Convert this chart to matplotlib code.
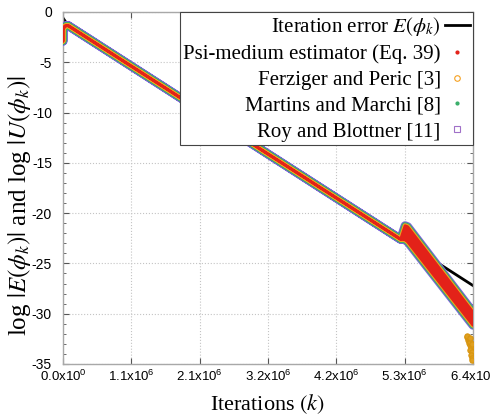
import numpy as np
import matplotlib.pyplot as plt
from matplotlib.lines import Line2D
from matplotlib.ticker import MultipleLocator
from matplotlib.font_manager import FontProperties

plt.rcParams['font.family'] = ['Liberation Serif', 'DejaVu Serif']
# tick label exponents use a sans math font, the labels keep stix
plt.rcParams['mathtext.fontset'] = 'custom'
plt.rcParams['mathtext.rm'] = 'Liberation Sans'
plt.rcParams['mathtext.it'] = 'Liberation Sans:italic'
plt.rcParams['mathtext.bf'] = 'Liberation Sans:bold'

# iteration error E(phi_k), log scale
err_k = [0.0, 0.08e6, 6.4e6]
err_log = [-0.6, -1.35, -27.2]

# envelope of the four error estimators (they sit on top of each other)
est_k = [0.0, 0.0, 0.03e6, 0.08e6, 5.27e6, 5.34e6, 5.38e6, 6.4e6]
est_hi = [-2.9, -1.75, -1.4, -1.35, -22.6, -21.25, -21.35, -29.85]
est_lo = [-2.9, -1.75, -1.4, -1.35, -22.6, -22.65, -22.85, -31.15]

# Ferziger and Peric values scattered near the end of the run
fp_tail_k = [6.30e6, 6.32e6, 6.34e6, 6.33e6, 6.35e6, 6.36e6, 6.37e6, 6.36e6,
             6.38e6, 6.37e6, 6.38e6, 6.39e6, 6.31e6, 6.35e6, 6.38e6]
fp_tail_y = [-32.3, -32.6, -32.5, -32.9, -33.1, -32.8, -33.3, -33.6,
             -33.8, -34.1, -34.4, -34.6, -32.2, -32.4, -33.0]

xticks = np.linspace(0, 6.4e6, 7)
xtick_labels = ['0.0x10$^{0}$', '1.1x10$^{6}$', '2.1x10$^{6}$', '3.2x10$^{6}$',
                '4.2x10$^{6}$', '5.3x10$^{6}$', '6.4x10$^{6}$']
yticks = [0, -5, -10, -15, -20, -25, -30, -35]

c_psi = '#e32219'
c_fp = '#f5a020'
c_mm = '#3aae6a'
c_rb = '#7a5fd8'

fig = plt.figure(figsize=(4.9, 4.18), dpi=100)
ax = fig.add_axes([0.1286, 0.1292, 0.8367, 0.8421])

ax.plot(err_k, err_log, color='black', lw=2.0, zorder=2)

poly_x = np.concatenate([est_k, est_k[::-1]])
poly_y = np.concatenate([est_hi, est_lo[::-1]])
for col, lw in [(c_rb, 6.4), (c_mm, 5.0), (c_fp, 3.5), (c_psi, 2.0)]:
    ax.fill(poly_x, poly_y, facecolor=c_psi, edgecolor=col, lw=lw,
            joinstyle='round', zorder=3)

ax.plot(fp_tail_k, fp_tail_y, 'o', color='#e0a020', mec='#d89510', ms=3.8,
        mew=0.8, zorder=3)

ax.set_xlim(0, 6.4e6)
ax.set_ylim(-35, 0)
ax.set_xticks(xticks)
ax.set_xticklabels(xtick_labels, family='Liberation Sans', fontsize=9.5)
ax.set_yticks(yticks)
ax.set_yticklabels([str(v) for v in yticks], family='Liberation Sans',
                   fontsize=10, va='center_baseline')
ax.yaxis.set_minor_locator(MultipleLocator(1))
ax.tick_params(which='both', direction='in', top=True, right=True,
               color='#555555')
ax.tick_params(axis='y', which='major', pad=8)
ax.tick_params(which='major', length=4, width=0.8)
ax.tick_params(which='minor', length=2, width=0.6)
ax.grid(True, which='major', ls=':', color='#c4c4c4', lw=0.8)
for sp in ax.spines.values():
    sp.set_color('#a8a8a8')
    sp.set_linewidth(1.0)

ax.set_xlabel(r'Iterations $(k)$', fontsize=16, labelpad=6,
              math_fontfamily='stix')
ax.set_ylabel(r'log $|E(\phi_k)|$ and log $|U(\phi_k)|$', fontsize=18,
              math_fontfamily='stix')
ax.yaxis.set_label_coords(-0.074, 0.45)

handles = [
    Line2D([], [], color='black', lw=2.0),
    Line2D([], [], ls='none', marker='.', color=c_psi, ms=4),
    Line2D([], [], ls='none', marker='o', mfc='none', mec=c_fp, ms=4, mew=0.8),
    Line2D([], [], ls='none', marker='.', color=c_mm, ms=4),
    Line2D([], [], ls='none', marker='s', mfc='none', mec='#a070c8', ms=4, mew=0.8),
]
labels = [r'Iteration error $E(\phi_k)$',
          'Psi-medium estimator (Eq. 39)',
          'Ferziger and Peric [3]',
          'Martins and Marchi [8]',
          'Roy and Blottner [11]']
leg_font = FontProperties(family='Liberation Serif', size=15,
                          math_fontfamily='stix')
leg = ax.legend(handles, labels, loc='upper right', markerfirst=False,
                prop=leg_font, frameon=True, fancybox=False, framealpha=1,
                edgecolor='#444444', borderaxespad=0.0, borderpad=0.15,
                handlelength=1.2, handletextpad=0.2, labelspacing=0.3)
leg.get_frame().set_linewidth(0.8)
leg.set_zorder(5)

fig.savefig('out.png', dpi=100)
